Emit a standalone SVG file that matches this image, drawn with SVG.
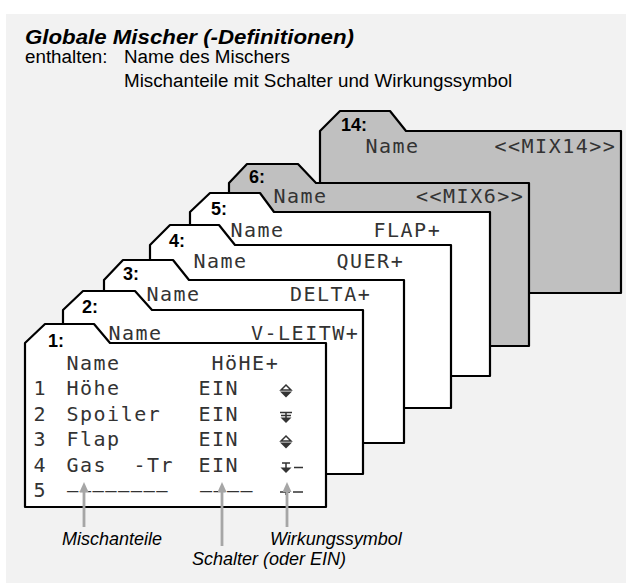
<svg xmlns="http://www.w3.org/2000/svg" width="626" height="583" viewBox="0 0 626 583">
<defs>
<style>
.card{stroke:#000;stroke-width:2.2;stroke-linejoin:round}
.w{fill:#fff}
.g{fill:#c0c0c0}
.lcd{font-family:"DejaVu Sans Mono",monospace;font-size:20px;letter-spacing:1.5px;fill:#333}
.num{font-family:"Liberation Sans",Arial,sans-serif;font-weight:bold;font-size:18px;fill:#000}
.lbl{font-family:"Liberation Sans",Arial,sans-serif;font-style:italic;font-size:18px;fill:#000}
.hdr{font-family:"Liberation Sans",Arial,sans-serif;font-size:18.8px;fill:#000}
.ttl{font-family:"Liberation Sans",Arial,sans-serif;font-size:21px;font-weight:bold;font-style:italic;fill:#000}
.arr{stroke:#a6a6a6;stroke-width:2.8;fill:none;marker-end:url(#ah)}
.sf{fill:#333}
.ss{fill:none;stroke:#333;stroke-width:1.5}
</style>
<marker id="ah" markerUnits="userSpaceOnUse" viewBox="0 0 10 9" markerWidth="10" markerHeight="9" refX="2" refY="4.5" orient="auto"><path d="M0,0 L10,4.5 L0,9 Z" fill="#a6a6a6"/></marker>
</defs>
<rect x="6" y="14" width="620" height="569" fill="#f2f2f2"/>
<g id="header">
<text class="ttl" x="25" y="44" textLength="329" lengthAdjust="spacingAndGlyphs">Globale Mischer (-Definitionen)</text>
<text class="hdr" x="25" y="63">enthalten:</text>
<text class="hdr" x="124" y="63">Name des Mischers</text>
<text class="hdr" x="124" y="87">Mischanteile mit Schalter und Wirkungssymbol</text>
</g>
<g id="card14">
<path class="card g" d="M320,293 V131 L340,111 H390 L406,131 H621 V293 Z"/>
<text class="num" x="341" y="131">14:</text>
<text class="lcd" x="365.5" y="153">Name</text>
<text class="lcd" x="494.5" y="153">&lt;&lt;MIX14&gt;&gt;</text>
</g>
<g id="card6">
<path class="card g" d="M229,346 V183 L247,164 H298 L316,183 H529 V346 Z"/>
<text class="num" x="249" y="183">6:</text>
<text class="lcd" x="273.5" y="203">Name</text>
<text class="lcd" x="416" y="203">&lt;&lt;MIX6&gt;&gt;</text>
</g>
<g id="card5">
<path class="card w" d="M190,376 V212 L210,193 H260 L274,212 H490 V376 Z"/>
<text class="num" x="211" y="215">5:</text>
<text class="lcd" x="230.5" y="237">Name</text>
<text class="lcd" x="373.5" y="237">FLAP+</text>
</g>
<g id="card4">
<path class="card w" d="M150,408 V245 L170,225 H219 L235,245 H451 V408 Z"/>
<text class="num" x="169" y="247">4:</text>
<text class="lcd" x="193.5" y="268">Name</text>
<text class="lcd" x="336.5" y="268">QUER+</text>
</g>
<g id="card3">
<path class="card w" d="M104,443 V280 L123,260 H173 L189,280 H404 V443 Z"/>
<text class="num" x="123" y="280">3:</text>
<text class="lcd" x="146.5" y="301">Name</text>
<text class="lcd" x="290" y="301">DELTA+</text>
</g>
<g id="card2">
<path class="card w" d="M63,474 V310 L83,291 H135 L152,310 H363 V474 Z"/>
<text class="num" x="82" y="313">2:</text>
<text class="lcd" x="108.5" y="340">Name</text>
<text class="lcd" x="251" y="340">V-LEITW+</text>
</g>
<g id="card1">
<path class="card w" d="M25,507 V343 L45,324 H94 L110,343 H326 V507 Z"/>
<text class="num" x="48" y="347">1:</text>
<text class="lcd" x="66.5" y="370">Name</text>
<text class="lcd" x="211.5" y="370">HöHE+</text>
<text class="lcd" x="33.5" y="395">1</text>
<text class="lcd" x="66.5" y="395">Höhe</text>
<text class="lcd" x="198.5" y="395">EIN</text>
<text class="lcd" x="33.5" y="421">2</text>
<text class="lcd" x="66.5" y="421">Spoiler</text>
<text class="lcd" x="198.5" y="421">EIN</text>
<text class="lcd" x="33.5" y="446">3</text>
<text class="lcd" x="66.5" y="446">Flap</text>
<text class="lcd" x="198.5" y="446">EIN</text>
<text class="lcd" x="33.5" y="472">4</text>
<text class="lcd" x="66.5" y="472">Gas</text>
<text class="lcd" x="133.5" y="472">-Tr</text>
<text class="lcd" x="198.5" y="472">EIN</text>
<text class="lcd" x="33.5" y="497">5</text>
<text class="lcd" x="67" y="497" textLength="102" lengthAdjust="spacingAndGlyphs">––––––––</text>
<text class="lcd" x="200" y="497">––––</text>
<g id="sym1">
<path class="ss" d="M281,390 L286,385 L291,390 Z"/>
<path class="sf" d="M280,391.5 H292 L286,397.5 Z"/>
</g>
<g id="sym2">
<path class="ss" d="M280,412.5 H292 M281,415.5 H291 M286,412.5 V418"/>
<path class="sf" d="M280.5,417.5 H291.5 L286,423 Z"/>
</g>
<g id="sym3">
<path class="ss" d="M281,441 L286,436 L291,441 Z"/>
<path class="sf" d="M280,442.5 H292 L286,448.5 Z"/>
</g>
<g id="sym4">
<path class="ss" d="M282,463 H290 M286,463 V468 M294,467.5 H303"/>
<path class="sf" d="M280.5,467.5 H291.5 L286,473 Z"/>
</g>
<g id="sym5">
<path class="ss" d="M280,492 H290 M286,489 V495 M293,492 H303"/>
</g>
</g>
<g id="connectors">
<line class="arr" x1="84" y1="527" x2="84" y2="490"/>
<line class="arr" x1="222" y1="546" x2="222" y2="490"/>
<line class="arr" x1="287" y1="527" x2="287" y2="490"/>
</g>
<g id="labels">
<text class="lbl" x="62" y="545">Mischanteile</text>
<text class="lbl" x="270" y="545">Wirkungssymbol</text>
<text class="lbl" x="192" y="565">Schalter (oder EIN)</text>
</g>
</svg>
